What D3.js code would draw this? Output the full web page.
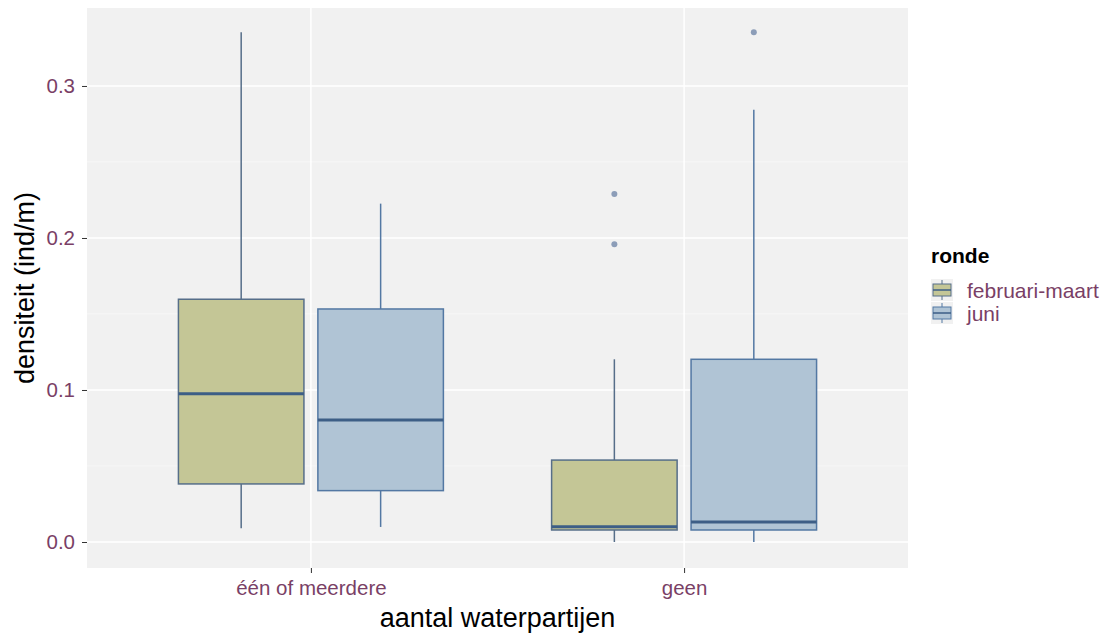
<!DOCTYPE html>
<html>
<head>
<meta charset="utf-8">
<script src="https://cdn.jsdelivr.net/npm/d3@7"></script>
<style>
  body { margin: 0; background: #fff; }
  text { font-family: "Liberation Sans", Arial, sans-serif; }
</style>
</head>
<body>
<script>
const categories = ['één of meerdere', 'geen'];
const series = ['februari-maart', 'juni'];

// box statistics per series, one value per category
const whiskerLow = { 'februari-maart': [0.009, 0.0], 'juni': [0.0099, 0.0] };
const q1 = { 'februari-maart': [0.0382, 0.0079], 'juni': [0.0338, 0.0079] };
const median = { 'februari-maart': [0.0976, 0.0101], 'juni': [0.0803, 0.0132] };
const q3 = { 'februari-maart': [0.1597, 0.0539], 'juni': [0.1533, 0.1202] };
const whiskerHigh = { 'februari-maart': [0.3353, 0.1202], 'juni': [0.2226, 0.2844] };
const outliers = { 'februari-maart': [[], [0.229, 0.1958]], 'juni': [[], [0.3353]] };

const yTicks = [0.0, 0.1, 0.2, 0.3];
const yMinor = [0.05, 0.15, 0.25];

const fills = { 'februari-maart': '#c4c696', 'juni': '#b0c4d5' };
const strokes = { 'februari-maart': '#566e89', 'juni': '#5378a3' };

const W = 1106, H = 640;
const margin = { left: 87, top: 8, right: 198, bottom: 72 };
const width = W - margin.left - margin.right;
const height = H - margin.top - margin.bottom;

const svg = d3.select('body').append('svg')
    .attr('width', W)
    .attr('height', H);

const g = svg.append('g').attr('transform', `translate(${margin.left},${margin.top})`);

const x = d3.scalePoint().domain(categories).range([0, width]).padding(0.6);
const step = x.step();
const inner = d3.scaleBand().domain(series)
    .range([-0.355 * step, 0.355 * step])
    .paddingInner(0.1);

const y = d3.scaleLinear().domain([-0.0171, 0.3513]).range([height, 0]);

// panel
g.append('rect').attr('width', width).attr('height', height).attr('fill', '#f1f1f1');

g.selectAll('.minor').data(yMinor).enter().append('line')
    .attr('x1', 0).attr('x2', width)
    .attr('y1', d => y(d)).attr('y2', d => y(d))
    .attr('stroke', '#f9f9f9').attr('stroke-width', 0.8);

g.selectAll('.major').data(yTicks).enter().append('line')
    .attr('x1', 0).attr('x2', width)
    .attr('y1', d => y(d)).attr('y2', d => y(d))
    .attr('stroke', '#fff').attr('stroke-width', 1.5);

g.selectAll('.vmajor').data(categories).enter().append('line')
    .attr('x1', d => x(d)).attr('x2', d => x(d))
    .attr('y1', 0).attr('y2', height)
    .attr('stroke', '#fff').attr('stroke-width', 1.5);

// axes
const yAxis = g.append('g')
    .call(d3.axisLeft(y).tickValues(yTicks).tickFormat(d3.format('.1f')).tickSize(5).tickPadding(7));
const xAxis = g.append('g').attr('transform', `translate(0,${height})`)
    .call(d3.axisBottom(x).tickSize(5).tickPadding(7));

[yAxis, xAxis].forEach(a => {
    a.select('.domain').remove();
    a.selectAll('.tick line').attr('stroke', '#333').attr('stroke-width', 1);
    a.selectAll('.tick text').attr('fill', '#7a3f66').style('font-size', '20.5px');
});

// boxes
const boxes = [];
series.forEach(s => {
    categories.forEach((c, i) => {
        boxes.push({ s, c, lo: whiskerLow[s][i], q1: q1[s][i], med: median[s][i], q3: q3[s][i], hi: whiskerHigh[s][i], out: outliers[s][i] });
    });
});

const bw = inner.bandwidth();
const bg = g.selectAll('.box').data(boxes).enter().append('g')
    .attr('transform', d => `translate(${x(d.c) + inner(d.s) + bw / 2},0)`);

bg.append('line').attr('x1', 0).attr('x2', 0)
    .attr('y1', d => y(d.q3)).attr('y2', d => y(d.hi))
    .attr('stroke', d => strokes[d.s]).attr('stroke-width', 1.5);
bg.append('line').attr('x1', 0).attr('x2', 0)
    .attr('y1', d => y(d.q1)).attr('y2', d => y(d.lo))
    .attr('stroke', d => strokes[d.s]).attr('stroke-width', 1.5);
bg.append('rect')
    .attr('x', -bw / 2).attr('width', bw)
    .attr('y', d => y(d.q3)).attr('height', d => y(d.q1) - y(d.q3))
    .attr('fill', d => fills[d.s])
    .attr('stroke', d => strokes[d.s]).attr('stroke-width', 1.5);
bg.append('line').attr('x1', -bw / 2).attr('x2', bw / 2)
    .attr('y1', d => y(d.med)).attr('y2', d => y(d.med))
    .attr('stroke', '#3d5e86').attr('stroke-width', 3);
bg.selectAll('circle').data(d => d.out).enter().append('circle')
    .attr('cx', 0).attr('cy', d => y(d)).attr('r', 3)
    .attr('fill', '#8c9db8');

// axis titles
svg.append('text')
    .attr('x', margin.left + width / 2).attr('y', 627)
    .attr('text-anchor', 'middle')
    .style('font-size', '27px')
    .text('aantal waterpartijen');

svg.append('text')
    .attr('transform', `translate(34,${margin.top + height / 2}) rotate(-90)`)
    .attr('text-anchor', 'middle')
    .style('font-size', '27px')
    .text('densiteit (ind/m)');

// legend
const legend = svg.append('g').attr('transform', 'translate(931,0)');
legend.append('text').attr('x', 0).attr('y', 263)
    .style('font-size', '21px').style('font-weight', 'bold')
    .text('ronde');

const ks = 22;
const key = legend.selectAll('.key').data(series).enter().append('g')
    .attr('transform', (d, i) => `translate(0,${279 + i * (ks + 1)})`);
key.append('rect').attr('width', ks).attr('height', ks).attr('fill', '#f1f1f1');
key.append('line').attr('x1', ks / 2).attr('x2', ks / 2).attr('y1', 1).attr('y2', ks - 1)
    .attr('stroke', d => strokes[d]).attr('stroke-width', 1);
key.append('rect').attr('x', 2).attr('y', 5).attr('width', ks - 4).attr('height', ks - 10)
    .attr('fill', d => fills[d]).attr('stroke', d => strokes[d]).attr('stroke-width', 1);
key.append('line').attr('x1', 2).attr('x2', ks - 2).attr('y1', ks / 2).attr('y2', ks / 2)
    .attr('stroke', '#3d5e86').attr('stroke-width', 1.5);
key.append('text').attr('x', 36).attr('y', 19)
    .attr('fill', '#7a3f66')
    .style('font-size', '21px')
    .text(d => d);
</script>
</body>
</html>
